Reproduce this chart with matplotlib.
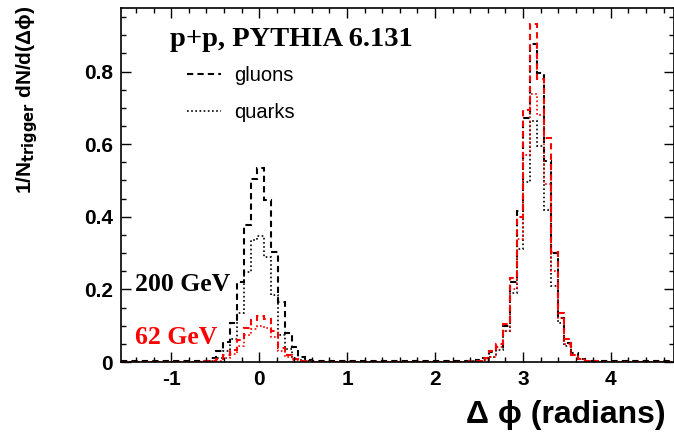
import numpy as np
import matplotlib
matplotlib.use("Agg")
import matplotlib.pyplot as plt
from matplotlib.lines import Line2D
from matplotlib.ticker import MultipleLocator

# 81 bins covering [-pi/2, 3pi/2]
n_bins = 81
x_min, x_max = -np.pi / 2, 3 * np.pi / 2

gluons_200 = [
    0.002, 0.002, 0.002, 0.002, 0.002, 0.002, 0.002, 0.002, 0.002, 0.002,
    0.002, 0.003, 0.004, 0.012, 0.030, 0.055, 0.108, 0.221, 0.378, 0.504,
    0.533, 0.445, 0.303, 0.165, 0.080, 0.042, 0.015, 0.005, 0.003, 0.002,
    0.002, 0.002, 0.002, 0.002, 0.002, 0.002, 0.002, 0.002, 0.002, 0.002,
    0.002, 0.002, 0.002, 0.002, 0.002, 0.002, 0.002, 0.002, 0.002, 0.002,
    0.002, 0.003, 0.005, 0.012, 0.028, 0.042, 0.100, 0.220, 0.415, 0.672,
    0.875, 0.796, 0.553, 0.300, 0.122, 0.052, 0.024, 0.008, 0.004, 0.003,
    0.002, 0.002, 0.002, 0.002, 0.002, 0.002, 0.002, 0.002, 0.002, 0.002,
    0.002,
]
quarks_200 = [
    0.001, 0.001, 0.001, 0.001, 0.001, 0.001, 0.001, 0.001, 0.001, 0.001,
    0.001, 0.001, 0.002, 0.004, 0.012, 0.030, 0.062, 0.135, 0.249, 0.337,
    0.348, 0.290, 0.185, 0.075, 0.035, 0.012, 0.005, 0.003, 0.001, 0.001,
    0.001, 0.001, 0.001, 0.001, 0.001, 0.001, 0.001, 0.001, 0.001, 0.001,
    0.001, 0.001, 0.001, 0.001, 0.001, 0.001, 0.001, 0.001, 0.001, 0.001,
    0.001, 0.002, 0.003, 0.006, 0.015, 0.033, 0.085, 0.190, 0.310, 0.497,
    0.665, 0.594, 0.420, 0.208, 0.107, 0.045, 0.020, 0.008, 0.004, 0.002,
    0.001, 0.001, 0.001, 0.001, 0.001, 0.001, 0.001, 0.001, 0.001, 0.001,
    0.001,
]
gluons_62 = [
    0.001, 0.001, 0.001, 0.001, 0.001, 0.001, 0.001, 0.001, 0.001, 0.001,
    0.001, 0.001, 0.002, 0.003, 0.008, 0.018, 0.033, 0.061, 0.093, 0.116,
    0.127, 0.118, 0.085, 0.038, 0.020, 0.008, 0.003, 0.002, 0.001, 0.001,
    0.001, 0.001, 0.001, 0.001, 0.001, 0.001, 0.001, 0.001, 0.001, 0.001,
    0.001, 0.001, 0.001, 0.001, 0.001, 0.001, 0.001, 0.001, 0.001, 0.001,
    0.001, 0.002, 0.004, 0.012, 0.030, 0.050, 0.105, 0.230, 0.400, 0.695,
    0.930, 0.780, 0.617, 0.304, 0.134, 0.063, 0.019, 0.008, 0.003, 0.002,
    0.001, 0.001, 0.001, 0.001, 0.001, 0.001, 0.001, 0.001, 0.001, 0.001,
    0.001,
]
quarks_62 = [
    0.001, 0.001, 0.001, 0.001, 0.001, 0.001, 0.001, 0.001, 0.001, 0.001,
    0.001, 0.001, 0.001, 0.002, 0.004, 0.010, 0.022, 0.045, 0.075, 0.090,
    0.100, 0.095, 0.070, 0.030, 0.015, 0.006, 0.002, 0.001, 0.001, 0.001,
    0.001, 0.001, 0.001, 0.001, 0.001, 0.001, 0.001, 0.001, 0.001, 0.001,
    0.001, 0.001, 0.001, 0.001, 0.001, 0.001, 0.001, 0.001, 0.001, 0.001,
    0.001, 0.001, 0.002, 0.006, 0.015, 0.040, 0.085, 0.200, 0.340, 0.570,
    0.737, 0.680, 0.490, 0.250, 0.120, 0.050, 0.020, 0.007, 0.003, 0.001,
    0.001, 0.001, 0.001, 0.001, 0.001, 0.001, 0.001, 0.001, 0.001, 0.001,
    0.001,
]

x_ticks = [-1, 0, 1, 2, 3, 4]
x_tick_labels = ["-1", "0", "1", "2", "3", "4"]
y_ticks = [0, 0.2, 0.4, 0.6, 0.8]
y_tick_labels = ["0", "0.2", "0.4", "0.6", "0.8"]

edges = np.linspace(x_min, x_max, n_bins + 1)

SANS = ["Liberation Sans", "DejaVu Sans"]
SERIF = ["Liberation Serif", "DejaVu Serif"]
plt.rcParams["font.family"] = SANS
plt.rcParams["mathtext.fontset"] = "dejavusans"

fig = plt.figure(figsize=(6.74, 4.38), dpi=100)
ax = fig.add_axes([121 / 674, 76 / 438, 552.5 / 674, 354 / 438])

dash = (0, (3, 2))
dot = (0, (1, 1.5))
ax.stairs(gluons_200, edges, baseline=None, color="black", lw=1.5, linestyle=dash)
ax.stairs(quarks_200, edges, baseline=None, color="black", lw=1.2, linestyle=dot)
ax.stairs(gluons_62, edges, baseline=None, color="red", lw=1.5, linestyle=dash)
ax.stairs(quarks_62, edges, baseline=None, color="red", lw=1.2, linestyle=dot)

ax.set_xlim(x_min, x_max)
ax.set_ylim(0, 0.975)
ax.set_xticks(x_ticks)
ax.set_xticklabels(x_tick_labels)
ax.set_yticks(y_ticks)
ax.set_yticklabels(y_tick_labels)
ax.xaxis.set_minor_locator(MultipleLocator(0.2))
ax.yaxis.set_minor_locator(MultipleLocator(0.05))
ax.tick_params(which="both", direction="in", top=True, right=True, width=1)
ax.tick_params(which="major", length=7, labelsize=15, pad=6)
ax.tick_params(which="minor", length=3.5)
for lab in ax.get_xticklabels() + ax.get_yticklabels():
    lab.set_fontweight("bold")
for sp in ax.spines.values():
    sp.set_linewidth(1.2)

handles = [
    Line2D([], [], color="black", lw=1.5, linestyle=dash),
    Line2D([], [], color="black", lw=1.2, linestyle=dot),
]
ax.legend(handles, ["gluons", "quarks"], loc="upper left",
          bbox_to_anchor=(0.104, 0.858), frameon=False, fontsize=14.5,
          handlelength=1.7, handletextpad=0.65, labelspacing=0.9,
          borderaxespad=0)

ax.text(0.089, 0.91, "p+p, PYTHIA 6.131", transform=ax.transAxes,
        family=SERIF, fontweight="bold", fontsize=20.5, va="center", ha="left")
ax.text(0.025, 0.22, "200 GeV", transform=ax.transAxes,
        family=SERIF, fontweight="bold", fontsize=18.5, va="center", ha="left")
ax.text(0.025, 0.07, "62 GeV", transform=ax.transAxes, color="red",
        family=SERIF, fontweight="bold", fontsize=18.5, va="center", ha="left")

fig.text(666 / 674, 23 / 438, "\u0394 \u03d5 (radians)", ha="right",
         va="center", fontsize=23, fontweight="bold",
         family=["Liberation Sans", "DejaVu Sans"])
fig.text(27 / 674, (438 - 100) / 438,
         "1/N$_{\\mathbf{trigger}}$ dN/d(\u0394\u03d5)",
         rotation=90, ha="center", va="center", fontsize=15, fontweight="bold")

fig.savefig("out.png", dpi=100)
